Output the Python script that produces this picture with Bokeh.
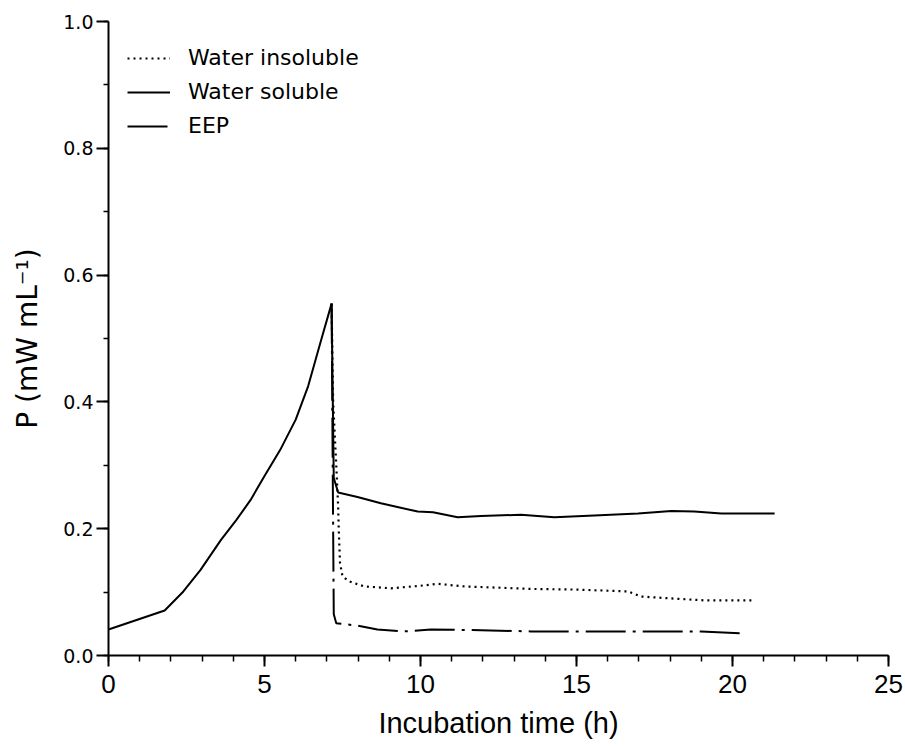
from bokeh.plotting import figure
from bokeh.models import (Range1d, SingleIntervalTicker, NumeralTickFormatter,
                          Legend, LegendItem)
from bokeh.embed import file_html
from bokeh.resources import INLINE

# Growth phase shared by all fractions (h, mW/mL)
growth_t = [0.0, 1.8, 2.4, 2.95, 3.6, 4.1, 4.55, 5.0, 5.5, 6.0, 6.4, 6.8, 7.15]
growth_p = [0.041, 0.071, 0.101, 0.135, 0.182, 0.214, 0.245, 0.283, 0.324, 0.372, 0.425, 0.495, 0.555]

# Water soluble fraction after addition
soluble_t = [7.15, 7.22, 7.36, 7.98, 8.73, 9.91, 10.4, 11.19, 11.94, 13.22, 14.29, 15.57, 16.97, 18.04, 18.78, 19.64, 21.35]
soluble_p = [0.555, 0.28, 0.257, 0.250, 0.240, 0.227, 0.226, 0.218, 0.220, 0.222, 0.218, 0.221, 0.224, 0.228, 0.227, 0.224, 0.224]

# Water insoluble fraction after addition
insoluble_t = [7.15, 7.2, 7.3, 7.36, 7.38, 7.42, 7.5, 7.71, 8.19, 9.05, 10.0, 10.55, 11.4, 13.54, 15.0, 16.65, 17.07, 18.04, 19.1, 20.66]
insoluble_p = [0.555, 0.40, 0.30, 0.235, 0.198, 0.146, 0.125, 0.117, 0.109, 0.106, 0.110, 0.113, 0.109, 0.105, 0.104, 0.101, 0.093, 0.090, 0.087, 0.087]

# EEP after addition
eep_t = [7.15, 7.2, 7.22, 7.3, 7.45, 8.0, 8.62, 9.48, 10.33, 11.94, 13.54, 15.0, 17.0, 19.0, 20.28]
eep_p = [0.555, 0.20, 0.065, 0.051, 0.050, 0.047, 0.041, 0.038, 0.041, 0.040, 0.038, 0.038, 0.038, 0.038, 0.035]

series_names = ["Water insoluble", "Water soluble", "EEP"]

p = figure(frame_width=780, frame_height=634, output_backend="svg",
           toolbar_location=None, x_range=Range1d(0, 25), y_range=Range1d(0, 1.0),
           min_border_left=108, min_border_right=17, min_border_top=21,
           min_border_bottom=92)
p.outline_line_color = None
p.xgrid.visible = False
p.ygrid.visible = False
p.background_fill_color = "white"
p.border_fill_color = "white"

p.xaxis.ticker = SingleIntervalTicker(interval=5, num_minor_ticks=5)
p.yaxis.ticker = SingleIntervalTicker(interval=0.2, num_minor_ticks=2)
p.yaxis.formatter = NumeralTickFormatter(format="0.0")

for ax in (p.xaxis, p.yaxis):
    ax.axis_line_width = 2
    ax.axis_line_color = "black"
    ax.major_tick_line_width = 2
    ax.minor_tick_line_width = 1.5
    ax.major_tick_in = 0
    ax.minor_tick_in = 0
    ax.major_label_text_color = "black"
    ax.axis_label_text_color = "black"
    ax.axis_label_text_font_style = "normal"

p.xaxis.major_tick_out = 11
p.xaxis.minor_tick_out = 6
p.xaxis.major_label_standoff = 8
p.xaxis.major_label_text_font = "Liberation Sans Narrow, Liberation Sans"
p.xaxis.major_label_text_font_size = "26px"
p.xaxis.axis_label = "Incubation time (h)"
p.xaxis.axis_label_text_font = "Liberation Sans"
p.xaxis.axis_label_text_font_size = "29px"
p.xaxis.axis_label_standoff = 11

p.yaxis.major_tick_out = 12
p.yaxis.minor_tick_out = 5
p.yaxis.major_label_standoff = 3
p.yaxis.major_label_text_font = "DejaVu Sans"
p.yaxis.major_label_text_font_size = "19px"
p.yaxis.axis_label = "P (mW mL\u207b\u00b9)"
p.yaxis.axis_label_text_font = "DejaVu Sans"
p.yaxis.axis_label_text_font_size = "28px"
p.yaxis.axis_label_standoff = 16

p.line(growth_t, growth_p, line_color="black", line_width=2)
r_ins = p.line(insoluble_t, insoluble_p, line_color="black", line_width=2.2,
               line_dash="2 4")
r_sol = p.line(soluble_t, soluble_p, line_color="black", line_width=2)
r_eep = p.line(eep_t, eep_p, line_color="black", line_width=2,
               line_dash="40 7 3 7")

legend = Legend(items=[LegendItem(label=series_names[0], renderers=[r_ins]),
                       LegendItem(label=series_names[1], renderers=[r_sol]),
                       LegendItem(label=series_names[2], renderers=[r_eep])],
                location=(19, 517), border_line_color=None,
                background_fill_alpha=0, padding=0, spacing=9,
                label_height=20, glyph_height=20, glyph_width=43,
                label_standoff=18, label_text_font="DejaVu Sans",
                label_text_font_size="22px", label_text_color="black",
                margin=0)
p.add_layout(legend)

open("out.html", "w").write(file_html(p, INLINE))
